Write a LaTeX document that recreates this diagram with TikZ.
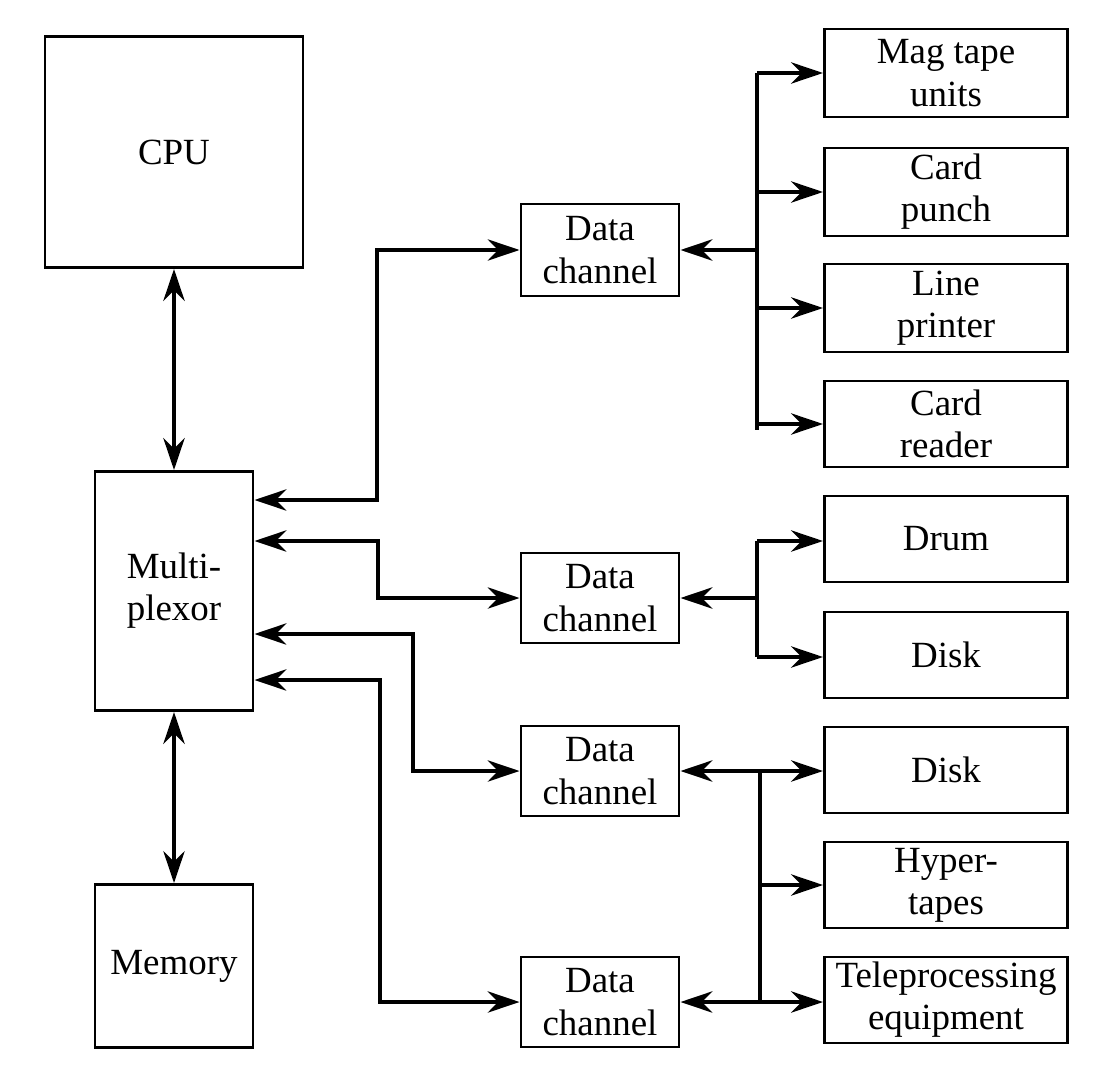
\documentclass[tikz,border=0pt]{standalone}
\usepackage{fontspec}
\setmainfont{Liberation Serif}
\usetikzlibrary{arrows.meta}
\begin{document}
\begin{tikzpicture}[x=0.01cm,y=-0.01cm,
	blk/.style={draw,line width=0.8pt,align=center,inner sep=0pt,font=\fontsize{10.5}{12}\selectfont},
	bus/.style={line width=1.3pt},
	arr/.style={bus,-{Stealth[length=9pt,width=6pt]}},
	darr/.style={bus,{Stealth[length=9pt,width=6pt]}-{Stealth[length=9pt,width=6pt]}}]
				\useasboundingbox (0,0) rectangle (1106,1091);
				% left column
				\node [blk,minimum width=2.58cm,minimum height=2.31cm] (cpu) at (174,152) {CPU};
				\node [blk,minimum width=1.58cm,minimum height=2.39cm] (mux) at (174,591) {Multi-\\plexor};
				\node [blk,minimum width=1.58cm,minimum height=1.63cm] (mem) at (174,966) {Memory};
				% data channels
				\node [blk,minimum width=1.58cm,minimum height=0.92cm] (dc1) at (600,250) {Data\\channel};
				\node [blk,minimum width=1.58cm,minimum height=0.9cm] (dc2) at (600,598) {Data\\channel};
				\node [blk,minimum width=1.58cm,minimum height=0.9cm] (dc3) at (600,771) {Data\\channel};
				\node [blk,minimum width=1.58cm,minimum height=0.9cm] (dc4) at (600,1002) {Data\\channel};
				% devices
				\node [blk,minimum width=2.43cm,minimum height=0.88cm] (mag) at (946,73) {Mag tape\\units};
				\node [blk,minimum width=2.43cm,minimum height=0.88cm] (punch) at (946,192) {Card\\punch};
				\node [blk,minimum width=2.43cm,minimum height=0.88cm] (lpr) at (946,308) {Line\\printer};
				\node [blk,minimum width=2.43cm,minimum height=0.86cm] (rdr) at (946,424) {Card\\reader};
				\node [blk,minimum width=2.43cm,minimum height=0.86cm] (drum) at (946,539) {Drum};
				\node [blk,minimum width=2.43cm,minimum height=0.86cm] (disk1) at (946,655) {Disk};
				\node [blk,minimum width=2.43cm,minimum height=0.86cm] (disk2) at (946,770) {Disk};
				\node [blk,minimum width=2.43cm,minimum height=0.86cm] (hyp) at (946,885) {Hyper-\\tapes};
				\node [blk,minimum width=2.43cm,minimum height=0.86cm] (tele) at (946,1000) {Teleprocessing\\equipment};
				% cpu, memory
				\draw [darr] (cpu) -- (mux);
				\draw [darr] (mux) -- (mem);
				% multiplexor to channels
				\draw [darr] (mux.east |- 0,500) -- (377,500) |- (dc1.west);
				\draw [darr] (mux.east |- 0,541) -- (378,541) |- (dc2.west);
				\draw [darr] (mux.east |- 0,634) -- (413,634) |- (dc3.west);
				\draw [darr] (mux.east |- 0,680) -- (380,680) |- (dc4.west);
				% channel 1 bus
				\coordinate (b1) at (757,250);
				\draw [arr] (b1) -- (dc1.east);
				\draw [bus] (757,73) -- (757,430);
				\foreach \d in {mag,punch,lpr,rdr}
					\draw [arr] (757,0 |- \d.west) -- (\d.west);
				% channel 2 bus
				\coordinate (b2) at (757,598);
				\draw [arr] (b2) -- (dc2.east);
				\draw [bus] (757,541) -- (757,657);
				\draw [arr] (757,541) -- (drum.west |- 0,541);
				\draw [arr] (757,657) -- (disk1.west |- 0,657);
				% channels 3 and 4 bus
				\draw [bus] (760,771) -- (760,1002);
				\draw [darr] (dc3.east) -- (disk2.west |- dc3.east);
				\draw [arr] (760,885) -- (hyp.west);
				\draw [darr] (dc4.east) -- (tele.west |- dc4.east);
			\end{tikzpicture}
\end{document}
